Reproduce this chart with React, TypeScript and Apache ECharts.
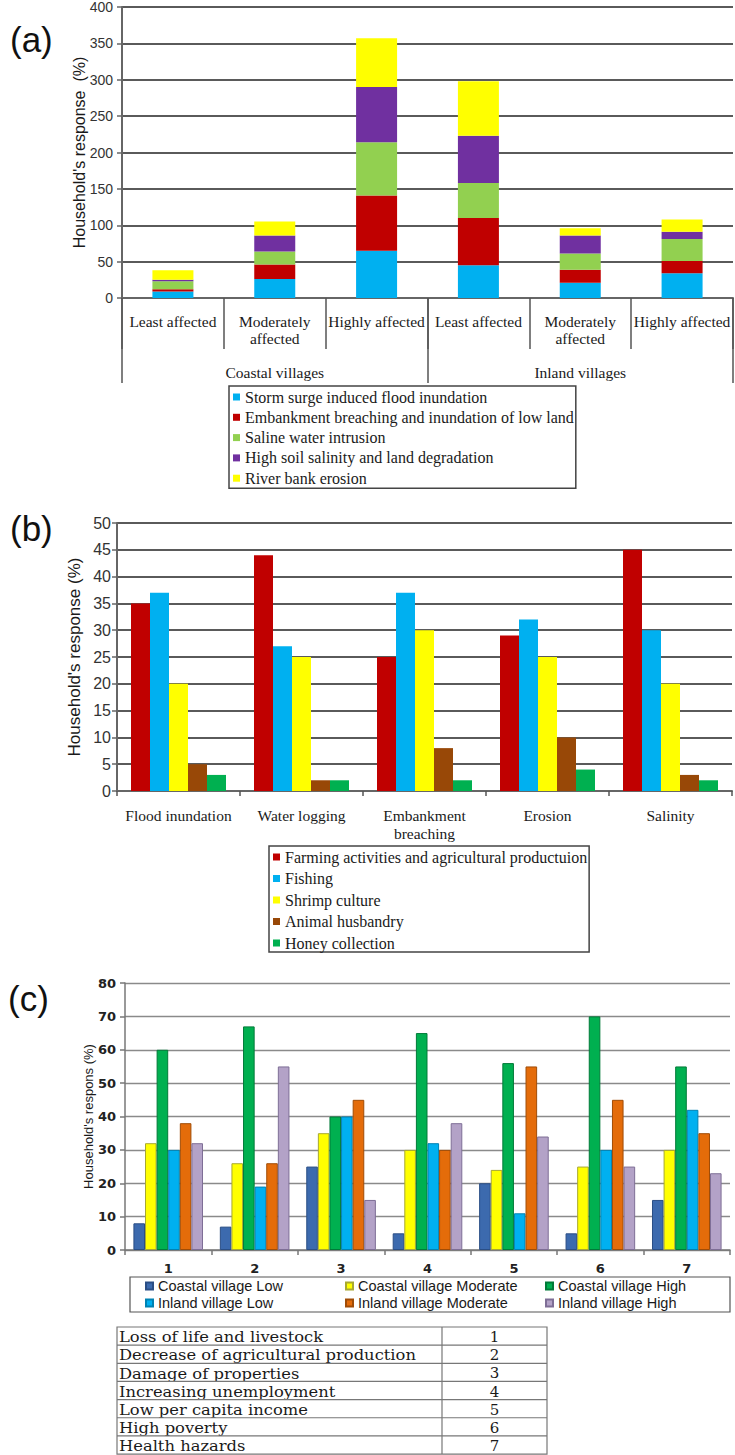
import React, { useEffect, useRef } from "react";
import * as echarts from "echarts";

// ---------- Panel (a) ----------
const aCategories = [
  "Least affected",
  "Moderately\naffected",
  "Highly affected",
  "Least affected",
  "Moderately\naffected",
  "Highly affected",
];
const aGroups = ["Coastal villages", "Inland villages"];
const aNames = [
  "Storm surge induced flood inundation",
  "Embankment breaching and inundation of low land",
  "Saline water intrusion",
  "High soil salinity and land degradation",
  "River bank erosion",
];
const aStorm = [9, 26, 65, 45, 21, 34];
const aEmbank = [3, 20, 76, 65, 18, 17];
const aSaline = [11, 18, 73, 48, 22, 30];
const aSoil = [2, 22, 76, 65, 25, 10];
const aRiver = [13, 19, 67, 75, 10, 17];
const aColors = ["#00B0F0", "#C00000", "#92D050", "#7030A0", "#FFFF00"];

// ---------- Panel (b) ----------
const bCategories = ["Flood inundation", "Water logging", "Embankment\nbreaching", "Erosion", "Salinity"];
const bNames = [
  "Farming activities and agricultural productuion",
  "Fishing",
  "Shrimp culture",
  "Animal husbandry",
  "Honey collection",
];
const bFarming = [35, 44, 25, 29, 45];
const bFishing = [37, 27, 37, 32, 30];
const bShrimp = [20, 25, 30, 25, 20];
const bAnimal = [5, 2, 8, 10, 3];
const bHoney = [3, 2, 2, 4, 2];
const bColors = ["#C00000", "#00B0F0", "#FFFF00", "#984807", "#00B050"];

// ---------- Panel (c) ----------
const cCategories = ["1", "2", "3", "4", "5", "6", "7"];
const cNames = [
  "Coastal village Low",
  "Coastal village Moderate",
  "Coastal village High",
  "Inland village Low",
  "Inland village Moderate",
  "Inland village High",
];
const cCoastalLow = [8, 7, 25, 5, 20, 5, 15];
const cCoastalMod = [32, 26, 35, 30, 24, 25, 30];
const cCoastalHigh = [60, 67, 40, 65, 56, 70, 55];
const cInlandLow = [30, 19, 40, 32, 11, 30, 42];
const cInlandMod = [38, 26, 45, 30, 55, 45, 35];
const cInlandHigh = [32, 55, 15, 38, 34, 25, 23];
const cColors = ["#3C6AAE", "#FFFF00", "#00B050", "#00B0F0", "#E46C0A", "#B3A2C7"];
const cBorders = ["#2A4E85", "#A8A830", "#007A38", "#0082B3", "#A04C06", "#7E6E96"];

const tableLabels = [
  "Loss of life and livestock",
  "Decrease of agricultural production",
  "Damage of properties",
  "Increasing unemployment",
  "Low per capita income",
  "High poverty",
  "Health hazards",
];
const tableNumbers = ["1", "2", "3", "4", "5", "6", "7"];

const SERIF = "'Liberation Serif', 'Times New Roman', serif";
const SANS = "'Liberation Sans', Arial, sans-serif";
const DSANS = "'DejaVu Sans', sans-serif";
const TSERIF = "'DejaVu Serif', serif";

export default function App() {
  const ref = useRef<HTMLDivElement>(null);

  useEffect(() => {
    if (!ref.current) return;
    const chart = echarts.init(ref.current, undefined, { renderer: "svg" });

    const aData = [aStorm, aEmbank, aSaline, aSoil, aRiver];
    const bData = [bFarming, bFishing, bShrimp, bAnimal, bHoney];
    const cData = [cCoastalLow, cCoastalMod, cCoastalHigh, cInlandLow, cInlandMod, cInlandHigh];

    const series: any[] = [];
    aNames.forEach((n, i) => {
      series.push({
        name: n,
        type: "bar",
        stack: "a",
        xAxisIndex: 0,
        yAxisIndex: 0,
        barWidth: 41,
        itemStyle: { color: aColors[i] },
        data: aData[i],
      });
    });
    bNames.forEach((n, i) => {
      series.push({
        name: n,
        type: "bar",
        xAxisIndex: 2,
        yAxisIndex: 1,
        barWidth: 19,
        barGap: "0%",
        itemStyle: { color: bColors[i] },
        data: bData[i],
      });
    });
    cNames.forEach((n, i) => {
      series.push({
        name: n,
        type: "bar",
        xAxisIndex: 3,
        yAxisIndex: 2,
        barWidth: 11.6,
        barGap: "0%",
        itemStyle: { color: cColors[i], borderColor: cBorders[i], borderWidth: 1 },
        data: cData[i],
      });
    });

    const gridLineA = { show: true, lineStyle: { color: "#5a5a5a", width: 2 } };

    // table graphics
    const tX0 = 117, tX1 = 547, tXd = 442, tY0 = 1327, tRow = 18.15;
    const tableEls: any[] = [];
    tableEls.push({
      type: "rect",
      shape: { x: tX0, y: tY0, width: tX1 - tX0, height: tRow * tableLabels.length },
      style: { fill: "none", stroke: "#777", lineWidth: 1.2 },
    });
    tableEls.push({
      type: "line",
      shape: { x1: tXd, y1: tY0, x2: tXd, y2: tY0 + tRow * tableLabels.length },
      style: { stroke: "#777", lineWidth: 1.2 },
    });
    tableLabels.forEach((t, i) => {
      if (i > 0) {
        tableEls.push({
          type: "line",
          shape: { x1: tX0, y1: tY0 + tRow * i, x2: tX1, y2: tY0 + tRow * i },
          style: { stroke: "#777", lineWidth: 1.2 },
        });
      }
      tableEls.push({
        type: "text",
        x: tX0 + 2,
        y: tY0 + tRow * i + tRow / 2 + 1,
        scaleX: 1.09,
        style: { text: t, fill: "#1a1a1a", font: `15px ${TSERIF}`, verticalAlign: "middle", align: "left" },
      });
      tableEls.push({
        type: "text",
        x: (tXd + tX1) / 2,
        y: tY0 + tRow * i + tRow / 2 + 1,
        style: { text: tableNumbers[i], fill: "#1a1a1a", font: `15px ${TSERIF}`, verticalAlign: "middle", align: "center" },
      });
    });

    const cLegendPos = [
      [145, 1278],
      [345, 1278],
      [545, 1278],
      [145, 1295],
      [345, 1295],
      [545, 1295],
    ];
    const cLegends = cNames.map((n, i) => ({
      data: [n],
      left: cLegendPos[i][0],
      top: cLegendPos[i][1],
      padding: 0,
      icon: "rect",
      itemWidth: 7,
      itemHeight: 7,
      selectedMode: false,
      textStyle: { fontFamily: SANS, fontSize: 14.5, lineHeight: 16, color: "#1a1a1a" },
    }));

    const option: any = {
      animation: false,
      backgroundColor: "#ffffff",
      grid: [
        { left: 122, top: 7, width: 611, height: 291 },
        { left: 117, top: 523, width: 615, height: 268 },
        { left: 125, top: 983, width: 605, height: 267 },
      ],
      xAxis: [
        {
          type: "category",
          gridIndex: 0,
          position: "bottom",
          data: aCategories,
          axisLine: { show: true, lineStyle: { color: "#666", width: 2 } },
          axisTick: { show: true, length: 51, interval: 0, lineStyle: { color: "#555", width: 1.5 } },
          axisLabel: {
            interval: 0,
            margin: 15,
            fontFamily: SERIF,
            fontSize: 15.5,
            lineHeight: 17,
            color: "#1a1a1a",
          },
        },
        {
          type: "category",
          gridIndex: 0,
          position: "bottom",
          data: aGroups,
          axisLine: { show: false },
          axisTick: { show: true, length: 85, interval: 0, lineStyle: { color: "#555", width: 1.5 } },
          axisLabel: {
            interval: 0,
            margin: 66,
            fontFamily: SERIF,
            fontSize: 15.5,
            lineHeight: 17,
            color: "#1a1a1a",
          },
        },
        {
          type: "category",
          gridIndex: 1,
          position: "bottom",
          data: bCategories,
          axisLine: { show: true, lineStyle: { color: "#666", width: 2 } },
          axisTick: { show: true, length: 5, interval: 0, lineStyle: { color: "#555", width: 1.5 } },
          axisLabel: {
            interval: 0,
            margin: 15,
            fontFamily: SERIF,
            fontSize: 15.5,
            lineHeight: 18,
            color: "#1a1a1a",
          },
        },
        {
          type: "category",
          gridIndex: 2,
          position: "bottom",
          data: cCategories,
          axisLine: { show: true, lineStyle: { color: "#777", width: 1.5 } },
          axisTick: { show: true, length: 5, interval: 0, lineStyle: { color: "#777", width: 1.5 } },
          axisLabel: {
            interval: 0,
            margin: 12,
            fontFamily: DSANS,
            fontSize: 13,
            fontWeight: "bold",
            color: "#222",
          },
        },
      ],
      yAxis: [
        {
          type: "value",
          gridIndex: 0,
          min: 0,
          max: 400,
          interval: 50,
          name: "Household's response  (%)",
          nameLocation: "middle",
          nameGap: 35,
          nameMoveOverlap: false,
          nameTextStyle: { fontFamily: SANS, fontSize: 16, color: "#1a1a1a" },
          axisLine: { show: true, lineStyle: { color: "#666", width: 2 } },
          axisTick: { show: true, length: 5, lineStyle: { color: "#666", width: 1.5 } },
          axisLabel: { margin: 9, fontFamily: SANS, fontSize: 14, color: "#333" },
          splitLine: gridLineA,
        },
        {
          type: "value",
          gridIndex: 1,
          min: 0,
          max: 50,
          interval: 5,
          name: "Household's response (%)",
          nameLocation: "middle",
          nameGap: 34,
          nameMoveOverlap: false,
          nameTextStyle: { fontFamily: SANS, fontSize: 17, color: "#1a1a1a" },
          axisLine: { show: true, lineStyle: { color: "#666", width: 2 } },
          axisTick: { show: true, length: 5, lineStyle: { color: "#666", width: 1.5 } },
          axisLabel: { margin: 6, fontFamily: SANS, fontSize: 16, color: "#333" },
          splitLine: gridLineA,
        },
        {
          type: "value",
          gridIndex: 2,
          min: 0,
          max: 80,
          interval: 10,
          name: "Household's respons (%)",
          nameLocation: "middle",
          nameGap: 30,
          nameMoveOverlap: false,
          nameTextStyle: { fontFamily: SANS, fontSize: 13, color: "#1a1a1a" },
          axisLine: { show: true, lineStyle: { color: "#777", width: 1.5 } },
          axisTick: { show: true, length: 5, lineStyle: { color: "#777", width: 1.5 } },
          axisLabel: { margin: 9, fontFamily: DSANS, fontSize: 13, fontWeight: "bold", color: "#222" },
          splitLine: { show: true, lineStyle: { color: "#8a8a8a", width: 1.3 } },
        },
      ],
      legend: [
        {
          data: aNames,
          orient: "vertical",
          left: 229,
          top: 386,
          padding: [3, 2, 2, 4],
          itemGap: 4.3,
          icon: "rect",
          itemWidth: 7,
          itemHeight: 7,
          selectedMode: false,
          borderColor: "#444",
          borderWidth: 1.5,
          textStyle: { fontFamily: SERIF, fontSize: 16, lineHeight: 16, color: "#1a1a1a" },
        },
        {
          data: bNames,
          orient: "vertical",
          left: 269,
          top: 846,
          padding: [3, 2, 1, 4],
          itemGap: 5.5,
          icon: "rect",
          itemWidth: 7,
          itemHeight: 7,
          selectedMode: false,
          borderColor: "#444",
          borderWidth: 1.5,
          textStyle: { fontFamily: SERIF, fontSize: 16, lineHeight: 16, color: "#1a1a1a" },
        },
        ...cLegends,
      ],
      graphic: [
        { type: "text", x: 10, y: 39, style: { text: "(a)", font: `35px ${SANS}`, fill: "#111", verticalAlign: "middle" } },
        { type: "text", x: 10, y: 528, style: { text: "(b)", font: `35px ${SANS}`, fill: "#111", verticalAlign: "middle" } },
        { type: "text", x: 8, y: 998, style: { text: "(c)", font: `35px ${SANS}`, fill: "#111", verticalAlign: "middle" } },
        {
          type: "rect",
          shape: { x: 130, y: 1277, width: 600, height: 35 },
          style: { fill: "none", stroke: "#555", lineWidth: 1.2 },
        },
        ...tableEls,
      ],
      series,
    };

    chart.setOption(option);
    return () => chart.dispose();
  }, []);

  return (
    <div
      ref={ref}
      style={{ position: "absolute", left: 0, top: 0, width: 735, height: 1455, background: "#fff" }}
    />
  );
}
